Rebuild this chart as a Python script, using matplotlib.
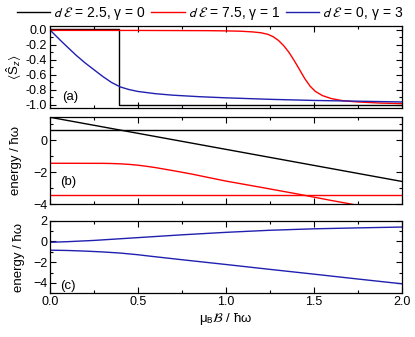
import matplotlib
matplotlib.use("Agg")
import matplotlib.pyplot as plt
from matplotlib.ticker import MultipleLocator, FormatStrFormatter
from matplotlib.font_manager import FontProperties

plt.rcParams["font.family"] = ["Liberation Sans", "DejaVu Sans"]
plt.rcParams["mathtext.fontset"] = "custom"
plt.rcParams["mathtext.rm"] = "Liberation Sans"
plt.rcParams["mathtext.it"] = "Liberation Sans:italic"
plt.rcParams["mathtext.fallback"] = "stixsans"

# ---- panel (a): <S_z> ----
a_black_x = [0.0, 0.39, 0.39, 2.0]
a_black_y = [0.015, 0.015, -1.0, -1.0]

a_red_x = [0.0, 0.5, 0.9, 1.0, 1.08, 1.15, 1.2, 1.24, 1.27, 1.3, 1.33, 1.36, 1.39, 1.42, 1.45,
           1.48, 1.51, 1.55, 1.6, 1.67, 1.75, 1.88, 2.0]
a_red_y = [-0.005, -0.006, -0.009, -0.012, -0.016, -0.025, -0.037, -0.058, -0.09, -0.14, -0.21,
           -0.3, -0.41, -0.53, -0.65, -0.75, -0.82, -0.875, -0.915, -0.945, -0.96, -0.975, -0.982]

a_blue_x = [0.0, 0.03, 0.06, 0.1, 0.15, 0.2, 0.25, 0.3, 0.35, 0.4, 0.45, 0.5, 0.6, 0.7,
            0.85, 1.0, 1.25, 1.5, 1.75, 2.0]
a_blue_y = [0.0, -0.07, -0.14, -0.23, -0.34, -0.44, -0.53, -0.62, -0.7, -0.76, -0.795, -0.82,
            -0.85, -0.87, -0.89, -0.905, -0.925, -0.94, -0.95, -0.96]

# ---- panel (b): energies ----
b_black_flat_x = [0.0, 2.0]
b_black_flat_y = [0.66, 0.66]
b_black_diag_x = [0.0, 2.0]
b_black_diag_y = [1.43, -2.57]

b_red_flat_x = [0.0, 2.0]
b_red_flat_y = [-3.4, -3.4]
b_red_bend_x = [0.0, 0.3, 0.35, 0.4, 0.45, 0.5, 0.55, 0.6, 0.7, 0.8, 1.0, 1.2, 1.4, 1.6, 1.72, 1.8]
b_red_bend_y = [-1.44, -1.445, -1.455, -1.475, -1.51, -1.56, -1.63, -1.71, -1.9, -2.1, -2.55,
                -2.94, -3.34, -3.76, -4.0, -4.16]

# ---- panel (c): energies ----
c_upper_x = [0.0, 0.1, 0.25, 0.5, 0.75, 1.0, 1.25, 1.5, 1.75, 2.0]
c_upper_y = [-0.08, -0.02, 0.1, 0.37, 0.64, 0.88, 1.08, 1.22, 1.31, 1.39]
c_lower_x = [0.0, 0.1, 0.2, 0.3, 0.4, 0.5, 0.57, 0.75, 1.0, 1.25, 1.5, 1.75, 2.0]
c_lower_y = [-0.84, -0.87, -0.93, -1.01, -1.12, -1.28, -1.42, -1.76, -2.22, -2.69, -3.15,
             -3.62, -4.08]

labels = [r"$d\ \mathcal{E}$ = 2.5, γ = 0", r"$d\ \mathcal{E}$ = 7.5, γ = 1",
          r"$d\ \mathcal{E}$ = 0, γ = 3"]
BLUE = "#2020b0"
RED = "#ff0000"
FS = 9.5
TFS = 9

fig = plt.figure(figsize=(4.15, 3.37), dpi=100)
left, width = 0.1205, 0.847
ax_a = fig.add_axes([left, 0.6786, width, 0.2451])
ax_b = fig.add_axes([left, 0.3938, width, 0.2582])
ax_c = fig.add_axes([left, 0.1297, width, 0.2153])

la, = ax_a.plot(a_black_x, a_black_y, color="black", lw=1.0)
lr, = ax_a.plot(a_red_x, a_red_y, color=RED, lw=1.0)
lb, = ax_a.plot(a_blue_x, a_blue_y, color=BLUE, lw=1.0)
ax_a.set_ylim(-1.045, 0.057)
ax_a.set_yticks([0.0, -0.2, -0.4, -0.6, -0.8, -1.0])
ax_a.yaxis.set_major_formatter(FormatStrFormatter("%.1f"))
ax_a.yaxis.set_minor_locator(MultipleLocator(0.1))
ax_a.set_ylabel(r"$\langle\hat{\mathrm{S}}_z\rangle$", fontsize=FS, labelpad=1)
ax_a.text(0.034, 0.14, "(a)", transform=ax_a.transAxes, fontsize=FS, va="center")

ax_b.plot(b_black_flat_x, b_black_flat_y, color="black", lw=1.0)
ax_b.plot(b_black_diag_x, b_black_diag_y, color="black", lw=1.0)
ax_b.plot(b_red_flat_x, b_red_flat_y, color=RED, lw=1.0)
ax_b.plot(b_red_bend_x, b_red_bend_y, color=RED, lw=1.0)
ax_b.set_ylim(-4, 1.43)
ax_b.set_yticks([0, -2, -4])
ax_b.yaxis.set_minor_locator(MultipleLocator(1))
ax_b.set_ylabel("energy / ħω", fontsize=FS, labelpad=8)
ax_b.text(0.03, 0.26, "(b)", transform=ax_b.transAxes, fontsize=FS, va="center")

ax_c.plot(c_upper_x, c_upper_y, color=BLUE, lw=1.0)
ax_c.plot(c_lower_x, c_lower_y, color=BLUE, lw=1.0)
ax_c.set_ylim(-5, 2)
ax_c.set_yticks([2, 0, -2, -4])
ax_c.yaxis.set_minor_locator(MultipleLocator(1))
ax_c.set_ylabel("energy / ħω", fontsize=FS, labelpad=6)
ax_c.text(0.028, 0.1, "(c)", transform=ax_c.transAxes, fontsize=FS, va="center")
ax_c.set_xlabel(r"μ$_\mathrm{B}\mathcal{B}$ / ħω", fontsize=FS, labelpad=2,
                math_fontfamily="stixsans")

for ax in (ax_a, ax_b, ax_c):
    ax.set_xlim(0, 2.0)
    ax.xaxis.set_major_locator(MultipleLocator(0.5))
    ax.xaxis.set_minor_locator(MultipleLocator(0.25))
    ax.tick_params(which="both", direction="in", top=True, right=True,
                   labelsize=TFS, width=0.8, pad=2)
    ax.tick_params(which="major", length=4)
    ax.tick_params(which="minor", length=2.5)
    for s in ax.spines.values():
        s.set_linewidth(0.9)
    if ax is not ax_c:
        ax.tick_params(labelbottom=False)
ax_c.xaxis.set_major_formatter(FormatStrFormatter("%.1f"))

fig.legend([la, lr, lb], labels, loc="upper center", bbox_to_anchor=(0.506, 1.01),
           ncol=3, frameon=False, handlelength=2.4, handletextpad=0.2,
           columnspacing=0.4, borderaxespad=0.2,
           prop=FontProperties(family="Liberation Sans", size=10,
                               math_fontfamily="stixsans"))

fig.savefig("out.png", dpi=100)
